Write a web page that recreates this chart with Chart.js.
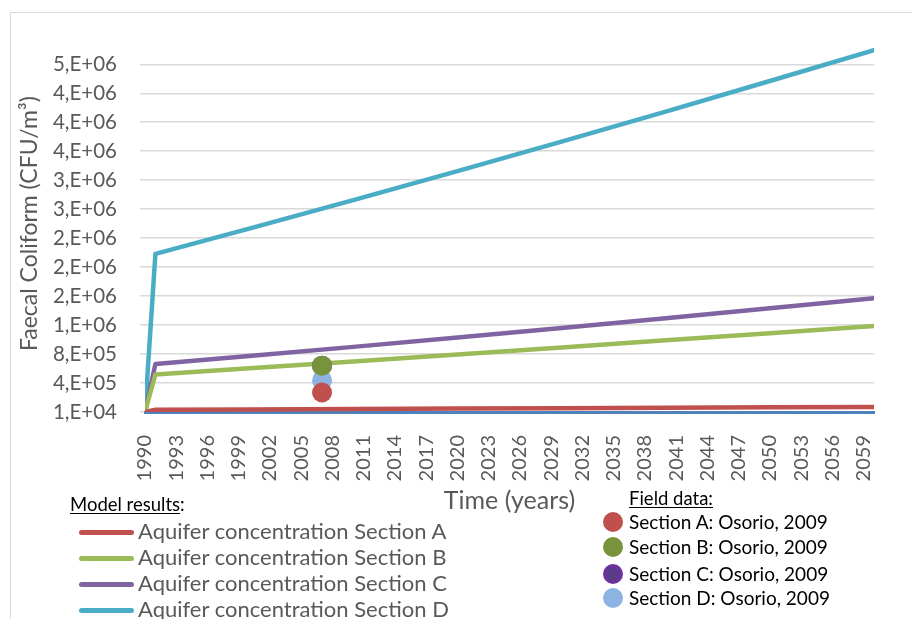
<!DOCTYPE html>
<html>
<head>
<meta charset="utf-8">
<script src="https://cdn.jsdelivr.net/npm/chart.js@4"></script>
<style>
  html, body { margin: 0; padding: 0; background: #fff; overflow: hidden; }
  body { width: 912px; height: 619px; position: relative; font-family: Lato, "Open Sans", sans-serif; }
  #frame { position: absolute; left: 10px; top: 12px; width: 960px; height: 700px; border: 1px solid #d9d9d9; }
  #wrap { position: absolute; left: 0; top: 0; width: 912px; height: 520px; }
  .leg { position: absolute; white-space: nowrap; line-height: 24px; }
  .title { color: #000; font-size: 18.5px; }
  .title u { text-decoration-thickness: 1px; text-underline-offset: 2px; }
  .row { color: #595959; font-size: 22px; }
  .row.dark { color: #000; font-size: 19px; }
  .swatch { position: absolute; height: 5px; width: 55px; border-radius: 3px; }
  .dot { position: absolute; width: 20px; height: 20px; border-radius: 50%; box-sizing: border-box; }
</style>
</head>
<body>
<div id="frame"></div>
<div id="wrap"><canvas id="coliformChart"></canvas></div>
<div id="legend"></div>

<script>
// x values of the model results (years) and the read concentrations
const modelYears = [1990, 1991, 2000, 2010, 2020, 2030, 2040, 2050, 2060];
const sectionA = [10000, 40000, 45000, 51000, 57000, 63000, 68000, 74000, 80000];
const sectionB = [10000, 528000, 613000, 708000, 804000, 901000, 999000, 1097000, 1197000];
const sectionC = [10000, 674000, 783000, 909000, 1037000, 1168000, 1303000, 1441000, 1582000];
const sectionD = [10000, 2192000, 2541000, 2935000, 3336000, 3743000, 4157000, 4579000, 5006000];

// field data (Osorio, 2009)
const fieldYear = 2007;
const fieldA = 279000;
const fieldB = 650000;
const fieldC = 650000;
const fieldD = 446000;

// axis ticks
const xTickYears = [1990, 1993, 1996, 1999, 2002, 2005, 2008, 2011, 2014, 2017, 2020, 2023,
                    2026, 2029, 2032, 2035, 2038, 2041, 2044, 2047, 2050, 2053, 2056, 2059];
const yTickValues = [10000, 410000, 810000, 1210000, 1610000, 2010000, 2410000,
                     2810000, 3210000, 3610000, 4010000, 4410000, 4810000];
const yTickLabels = ['1,E+04', '4,E+05', '8,E+05', '1,E+06', '2,E+06', '2,E+06', '2,E+06',
                     '3,E+06', '3,E+06', '4,E+06', '4,E+06', '4,E+06', '5,E+06'];

const modelNames = ['Aquifer concentration Section A', 'Aquifer concentration Section B',
                    'Aquifer concentration Section C', 'Aquifer concentration Section D'];
const fieldNames = ['Section A: Osorio, 2009', 'Section B: Osorio, 2009',
                    'Section C: Osorio, 2009', 'Section D: Osorio, 2009'];
const lineColors = ['#c0504d', '#9bbb59', '#8064a2', '#4bacc6'];
const dotColors = ['#c0504d', '#77933c', '#7030a0', '#8db3e2'];

function toPoints(values) {
    return values.map((v, i) => ({ x: modelYears[i], y: v }));
}

const modelSeries = [sectionA, sectionB, sectionC, sectionD];
const fieldSeries = [fieldA, fieldB, fieldC, fieldD];
const fieldOrder = [1, 2, 4, 3];

const datasets = [];
fieldSeries.forEach((v, i) => {
    datasets.push({
        label: fieldNames[i],
        data: [{ x: fieldYear, y: v }],
        showLine: false,
        pointRadius: 10,
        pointHoverRadius: 10,
        pointBackgroundColor: dotColors[i],
        pointBorderColor: dotColors[i],
        pointBorderWidth: 0,
        order: fieldOrder[i]
    });
});
modelSeries.forEach((vals, i) => {
    datasets.push({
        label: modelNames[i],
        data: toPoints(vals),
        showLine: true,
        borderColor: lineColors[i],
        backgroundColor: lineColors[i],
        borderWidth: 4.5,
        borderCapStyle: 'round',
        borderJoinStyle: 'round',
        pointRadius: 0,
        pointHoverRadius: 0,
        tension: 0,
        order: i === 0 ? 5 : 10 + i
    });
});

const ctx = document.getElementById('coliformChart').getContext('2d');
new Chart(ctx, {
    type: 'scatter',
    data: { datasets: datasets },
    options: {
        responsive: true,
        maintainAspectRatio: false,
        animation: false,
        layout: { padding: { left: 8, right: 38, top: 31, bottom: 0 } },
        plugins: { legend: { display: false }, tooltip: { enabled: false } },
        scales: {
            x: {
                type: 'linear',
                min: 1990,
                max: 2060,
                afterBuildTicks: axis => { axis.ticks = xTickYears.map(v => ({ value: v })); },
                afterFit: axis => { axis.height = 108; },
                grid: { display: false },
                border: { display: true, color: '#4f81bd', width: 3 },
                ticks: {
                    autoSkip: false,
                    minRotation: 90,
                    maxRotation: 90,
                    padding: 15,
                    color: '#595959',
                    font: { family: 'Lato', size: 20 },
                    callback: v => String(v)
                },
                title: {
                    display: true,
                    text: 'Time (years)',
                    color: '#595959',
                    font: { family: 'Lato', size: 25 },
                    padding: { top: 0, bottom: 4 }
                }
            },
            y: {
                type: 'linear',
                min: 10000,
                max: 5210000,
                afterBuildTicks: axis => { axis.ticks = yTickValues.map(v => ({ value: v })); },
                afterFit: axis => { axis.width = 137; },
                grid: { color: '#d9d9d9', lineWidth: 1.5, tickLength: 5 },
                border: { display: false },
                ticks: {
                    padding: 23,
                    color: '#595959',
                    font: { family: 'Lato', size: 20.5 },
                    callback: (v) => {
                        const k = yTickValues.indexOf(v);
                        return k >= 0 ? yTickLabels[k] : '';
                    }
                },
                title: {
                    display: true,
                    text: 'Faecal Coliform (CFU/m³)',
                    color: '#595959',
                    font: { family: 'Lato', size: 23 },
                    padding: { top: 8, bottom: 0 }
                }
            }
        }
    }
});

// legend below the plot
const legend = document.getElementById('legend');
function add(html, cls, left, top) {
    const el = document.createElement('div');
    el.className = cls;
    el.style.left = left + 'px';
    el.style.top = top + 'px';
    el.innerHTML = html;
    legend.appendChild(el);
    return el;
}
add('<u>Model results</u>:', 'leg title', 70, 492);
const modelRows = [532, 558, 584, 610];
modelNames.forEach((name, i) => {
    const sw = add('', 'swatch', 79, modelRows[i] - 2.5);
    sw.style.background = lineColors[i];
    add(name, 'leg row', 138, modelRows[i] - 13);
});
add('<u>Field data:</u>', 'leg title', 629, 486);
const fieldRows = [522, 547, 574, 598];
fieldNames.forEach((name, i) => {
    const d = add('', 'dot', 603, fieldRows[i] - 10);
    d.style.background = dotColors[i];
    if (i === 2) { d.style.border = '3px solid #7030a0'; d.style.background = '#5b3a8a'; }
    add(name, 'leg row dark', 629, fieldRows[i] - 12);
});
</script>
</body>
</html>
